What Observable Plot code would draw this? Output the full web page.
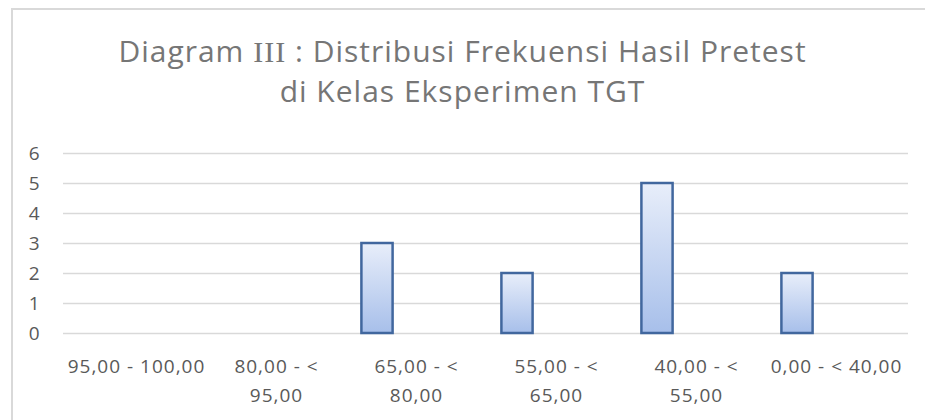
<!DOCTYPE html>
<html>
<head>
<meta charset="utf-8">
<script src="https://cdn.jsdelivr.net/npm/d3@7"></script>
<script src="https://cdn.jsdelivr.net/npm/@observablehq/plot@0.6"></script>
<style>
  html, body { margin: 0; padding: 0; background: #fff; }
  body { width: 925px; height: 420px; position: relative; overflow: hidden; font-family: "Open Sans", sans-serif; }
  #frame { position: absolute; left: 11px; top: 8px; right: -10px; bottom: -10px;
           border-left: 2px solid #d9d9d9; border-top: 2px solid #d9d9d9; pointer-events: none; }
  #title { height: 125px; box-sizing: border-box; padding-top: 31px; text-align: center;
           font-size: 30px; letter-spacing: 1px; line-height: 39px; color: #767676; }
  #title .roman { font-family: "Liberation Serif", serif; }
  #chart svg { display: block; }
  #chart svg text { letter-spacing: 1px; }
</style>
</head>
<body>
<div id="frame"></div>
<div id="title">Diagram <span class="roman">III</span> : Distribusi Frekuensi Hasil Pretest<br>di Kelas Eksperimen TGT</div>
<div id="chart"></div>
<script>
const categories = ["95,00 - 100,00", "80,00 - < 95,00", "65,00 - < 80,00", "55,00 - < 65,00", "40,00 - < 55,00", "0,00 - < 40,00"];
const tickLabels = ["95,00 - 100,00", "80,00 - <\n95,00", "65,00 - <\n80,00", "55,00 - <\n65,00", "40,00 - <\n55,00", "0,00 - < 40,00"];
const frequencies = [0, 0, 3, 2, 5, 2];
const yTicks = [0, 1, 2, 3, 4, 5, 6];

const data = categories.map((c, i) => ({category: c, freq: frequencies[i]}));

const plot = Plot.plot({
  width: 925,
  height: 295,
  marginLeft: 63,
  marginRight: 17,
  marginTop: 28,
  marginBottom: 87,
  style: {fontFamily: "Open Sans", fontSize: "19px", color: "#595959", background: "transparent"},
  x: {type: "band", domain: categories, padding: 0},
  y: {domain: [0, 6]},
  marks: [
    Plot.gridY(yTicks, {stroke: "#d9d9d9", strokeOpacity: 1, strokeWidth: 1.5}),
    Plot.axisY(yTicks, {tickSize: 0, tickPadding: 23, fontSize: 19, fill: "#595959", label: null}),
    Plot.axisX({tickSize: 0, tickPadding: 19, fontSize: 19, fill: "#595959", lineHeight: 1.53, label: null,
      tickFormat: d => tickLabels[categories.indexOf(d)]}),
    Plot.barY(data, {
      filter: d => d.freq > 0,
      x: "category", y: "freq",
      insetLeft: 54.4, insetRight: 54.4, dx: -39,
      fill: "url(#barGrad)", stroke: "#41679e", strokeWidth: 2.5,
      style: {filter: "drop-shadow(0px 2px 3px rgba(0,0,0,0.25))"}
    })
  ]
});

const ns = "http://www.w3.org/2000/svg";
const defs = document.createElementNS(ns, "defs");
defs.innerHTML = '<linearGradient id="barGrad" x1="0" y1="0" x2="0" y2="1">' +
  '<stop offset="0" stop-color="#e8eefa"/><stop offset="1" stop-color="#a7bfea"/></linearGradient>';
plot.insertBefore(defs, plot.firstChild);
document.getElementById("chart").appendChild(plot);
</script>
</body>
</html>
